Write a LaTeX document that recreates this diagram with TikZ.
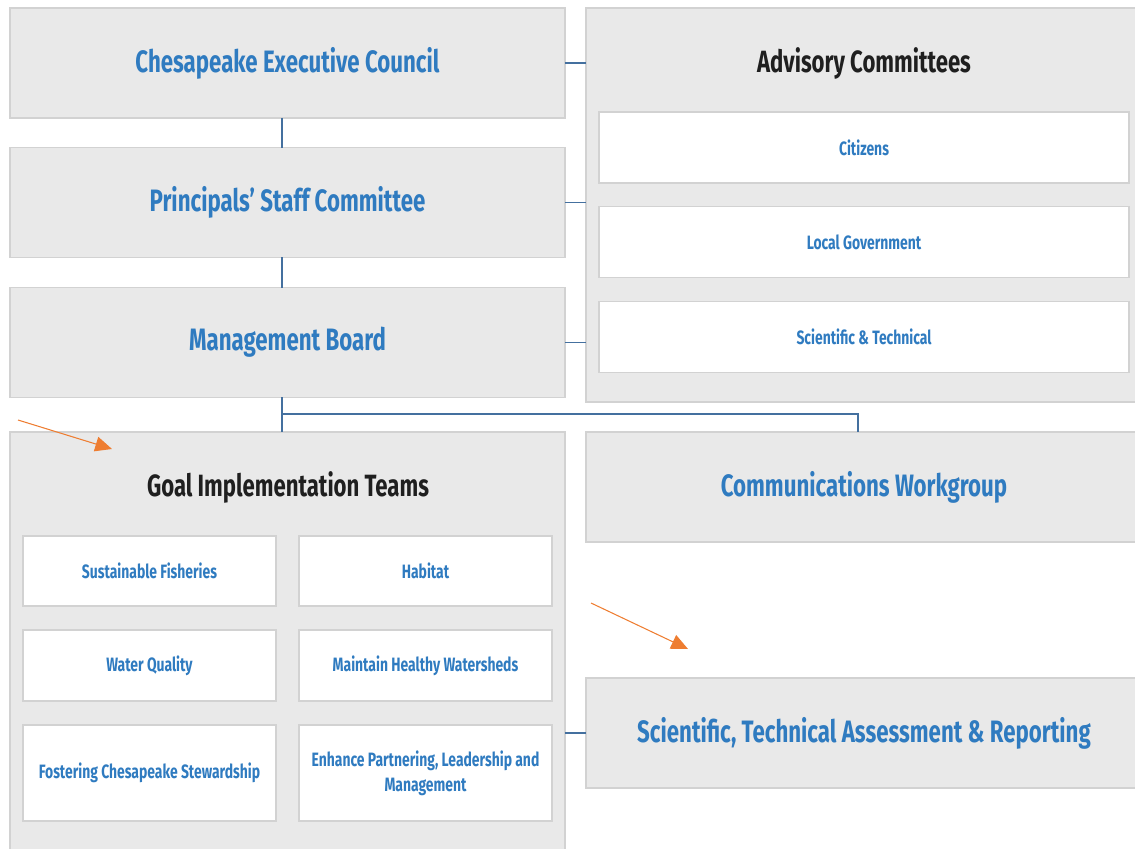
\documentclass[tikz,border=0pt]{standalone}
\usepackage{fontspec}
\setmainfont{Fira Sans}[FakeStretch=0.72]
\usetikzlibrary{arrows.meta}

\definecolor{panelgray}{HTML}{E9E9E9}
\definecolor{boxline}{HTML}{D2D2D2}
\definecolor{cbblue}{HTML}{2F7BC0}
\definecolor{linkblue}{HTML}{44709F}
\definecolor{notearrow}{HTML}{EE7D31}
\definecolor{headblack}{HTML}{1F1F1F}

\tikzset{
  panel/.style={draw=boxline, fill=panelgray, line width=0.8pt, inner sep=0pt, outer sep=0pt,
    minimum width=11.1cm, minimum height=2.2cm},
  card/.style={draw=boxline, fill=white, line width=0.8pt, inner sep=0pt, outer sep=0pt,
    align=center, text=cbblue, font=\bfseries\fontsize{11}{14}\selectfont},
  mainlabel/.style={text=cbblue, font=\bfseries\fontsize{17.6}{21}\selectfont},
  grouplabel/.style={text=headblack, font=\bfseries\fontsize{17.5}{20}\selectfont},
  link/.style={draw=linkblue, line width=1.1pt},
  pointer/.style={draw=notearrow, line width=0.6pt, -{Triangle[length=9.5pt,width=8.5pt]}},
}

\begin{document}
\begin{tikzpicture}[x=0.02cm,y=-0.02cm]

\useasboundingbox (0,0) rectangle (1135,848);
\clip (0,0) rectangle (1135,848);

% left column
\node[panel, mainlabel] (exec) at (287.5,63) {Chesapeake Executive Council};
\node[panel, mainlabel] (psc) at (287.5,202.5) {Principals' Staff Committee};
\node[panel, mainlabel] (mb) at (287.5,342.5) {Management Board};

% advisory committees
\node[panel, minimum width=11.12cm, minimum height=7.88cm] (adv) at (864,205) {};
\node[grouplabel] (advtitle) at (864,63) {Advisory Committees};
\node[card, minimum width=10.6cm, minimum height=1.42cm] (citizens) at (864,147.5) {Citizens};
\node[card, minimum width=10.6cm, minimum height=1.42cm] (localgov) at (864,242) {Local Government};
\node[card, minimum width=10.6cm, minimum height=1.42cm] (scitech) at (864,337) {Scientific \& Technical};

% goal implementation teams
\node[panel, minimum height=8.56cm] (git) at (287.5,646) {};
\node[grouplabel] (gittitle) at (288,487) {Goal Implementation Teams};
\node[card, minimum width=5.06cm, minimum height=1.4cm] (fish) at (149.5,571) {Sustainable Fisheries};
\node[card, minimum width=5.06cm, minimum height=1.4cm] (habitat) at (425.5,571) {Habitat};
\node[card, minimum width=5.06cm, minimum height=1.42cm] (water) at (149.5,665.5) {Water Quality};
\node[card, minimum width=5.06cm, minimum height=1.42cm] (sheds) at (425.5,665.5) {Maintain Healthy Watersheds};
\node[card, minimum width=5.06cm, minimum height=1.92cm] (steward) at (149.5,773) {Fostering Chesapeake Stewardship};
\node[card, minimum width=5.06cm, minimum height=1.92cm] (partner) at (425.5,773) {Enhance Partnering, Leadership and\\Management};

% right column, lower part
\node[panel, mainlabel, minimum width=11.12cm] (comms) at (864,487) {Communications Workgroup};
\node[panel, mainlabel, minimum width=11.12cm] (star) at (864,733) {Scientific, Technical Assessment \& Reporting};

% connectors
\coordinate (spine) at (282,0);
\coordinate (fork) at (282,414);
\draw[link] (exec.south -| spine) -- (psc.north -| spine);
\draw[link] (psc.south -| spine) -- (mb.north -| spine);
\draw[link] (mb.south -| spine) -- (git.north -| spine);
\draw[link] (fork) -| ([xshift=-0.12cm]comms.north);
\draw[link] (exec.east) -- (exec.east -| adv.west);
\draw[link] (psc.east) -- (psc.east -| adv.west);
\draw[link] (mb.east) -- (mb.east -| adv.west);
\draw[link] (star.west -| git.east) -- (star.west);

% orange pointers
\coordinate (p1) at (18,420);
\coordinate (p1tip) at (112,449);
\coordinate (p2) at (591,603);
\coordinate (p2tip) at (688,649);
\draw[pointer] (p1) -- (p1tip);
\draw[pointer] (p2) -- (p2tip);

\end{tikzpicture}
\end{document}
